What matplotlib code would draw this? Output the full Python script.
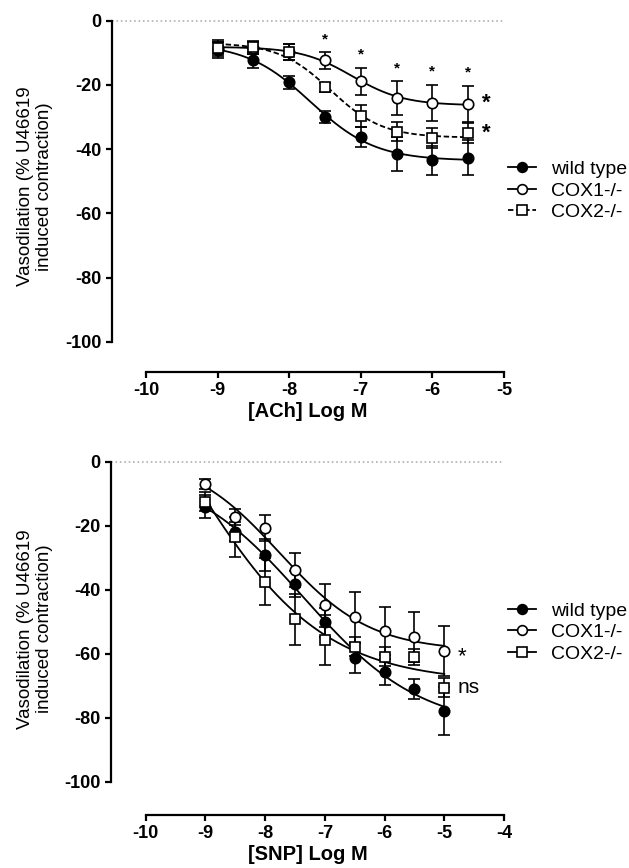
import numpy as np
import matplotlib
matplotlib.use('Agg')
import matplotlib.pyplot as plt
from matplotlib.lines import Line2D

plt.rcParams['font.family'] = ['Liberation Sans', 'DejaVu Sans']
plt.rcParams['axes.unicode_minus'] = False

# ACh dose response (mean, sem)
log_ach = [-9, -8.5, -8, -7.5, -7, -6.5, -6, -5.5]
wt_ach = [-9.0, -12.3, -19.2, -30.0, -36.2, -41.6, -43.5, -42.6]
wt_ach_err = [2.5, 2.5, 2.0, 2.0, 3.1, 5.3, 4.5, 5.5]
cox1_ach = [-8.5, -8.5, -9.7, -12.3, -18.8, -24.2, -25.5, -25.8]
cox1_ach_err = [2.5, 2.0, 2.5, 2.6, 4.2, 5.3, 5.6, 5.6]
cox2_ach = [-8.5, -8.3, -9.7, -20.8, -29.7, -34.6, -36.5, -35.1]
cox2_ach_err = [2.0, 2.0, 2.5, 1.5, 3.3, 3.0, 3.0, 3.1]
star_ach = [-7.5, -7, -6.5, -6, -5.5]   # doses marked with small *

# SNP dose response
log_snp = [-9, -8.5, -8, -7.5, -7, -6.5, -6, -5.5, -5]
wt_snp = [-14.0, -21.9, -29.0, -38.2, -50.2, -61.2, -65.8, -71.0, -77.8]
wt_snp_err = [3.5, 3.0, 5.0, 4.0, 4.5, 4.7, 4.0, 3.0, 7.5]
cox1_snp = [-7.0, -17.2, -20.8, -33.8, -44.8, -48.6, -52.9, -54.7, -59.1]
cox1_snp_err = [1.5, 2.5, 4.0, 5.2, 6.7, 8.0, 7.4, 7.8, 7.8]
cox2_snp = [-12.5, -23.6, -37.5, -49.3, -55.7, -57.8, -60.9, -61.1, -70.6]
cox2_snp_err = [3.0, 6.3, 7.3, 8.0, 7.8, 3.0, 3.0, 2.5, 3.0]

labels = ['wild type', 'COX1-/-', 'COX2-/-']


def fit_4pl(x, y):
    # log(agonist) vs response, variable slope: least squares on a grid of
    # logEC50/hill, top and bottom solved exactly for each pair
    x = np.asarray(x, float)
    y = np.asarray(y, float)
    cs = np.linspace(-10, -4, 301)[:, None, None]
    hs = np.linspace(0.2, 1.2, 101)[None, :, None]
    s = 1 / (1 + 10 ** ((cs - x) * hs))
    a = 1 - s
    saa = (a * a).sum(-1); sss = (s * s).sum(-1); sas = (a * s).sum(-1)
    say = (a * y).sum(-1); ssy = (s * y).sum(-1)
    with np.errstate(all='ignore'):
        det = saa * sss - sas ** 2
        top = (say * sss - ssy * sas) / det
        bot = (ssy * saa - say * sas) / det
        res = ((top[..., None] * a + bot[..., None] * s - y) ** 2).sum(-1)
    res[~np.isfinite(res)] = np.inf
    i, j = np.unravel_index(np.argmin(res), res.shape)
    return top[i, j], bot[i, j], cs[i, 0, 0], hs[0, j, 0]


def curve(p, xx):
    top, bot, c, h = p
    s = 1 / (1 + 10 ** ((c - xx) * h))
    return top + (bot - top) * s


def panel(ax, x, means, errs, styles, xlo, xhi, ylo):
    ax.plot([xlo, xhi], [0, 0], ls=':', color='#b0b0b0', lw=1.2, clip_on=False)
    xx = np.linspace(x[0], x[-1], 200)
    for m, e, st in zip(means, errs, styles):
        ax.plot(xx, curve(fit_4pl(x, m), xx), color='k', lw=1.3, ls=st['ls'], zorder=2)
        ax.errorbar(x, m, yerr=e, fmt='none', ecolor='k', elinewidth=1.2,
                    capsize=4.5, capthick=1.2, zorder=3)
    for m, st in zip(means, styles):
        ax.plot(x, m, ls='none', marker=st['marker'], ms=st['ms'], mfc=st['mfc'],
                mec='k', mew=1.2, zorder=4)
    ax.set_xlim(xlo, xhi)
    ax.set_ylim(ylo, 0)
    ax.spines['top'].set_visible(False)
    ax.spines['right'].set_visible(False)
    ax.spines['left'].set_bounds(-100, 0)
    ax.spines['bottom'].set_bounds(-10, xhi)
    ax.spines['left'].set_linewidth(1.6)
    ax.spines['bottom'].set_linewidth(1.6)
    ax.set_yticks([0, -20, -40, -60, -80, -100])
    ax.set_xticks(np.arange(-10, xhi + 0.5, 1))
    ax.set_xticklabels(['%d' % t for t in np.arange(-10, xhi + 0.5, 1)])
    ax.tick_params(direction='out', length=4.5, width=1.6, labelsize=13, pad=3)
    for t in ax.get_xticklabels() + ax.get_yticklabels():
        t.set_fontweight('bold')


def legend(styles, ycen):
    handles = [Line2D([], [], color='k', lw=1.3, ls=st['ls'], marker=st['marker'],
                      ms=st['ms'] - 0.5, mfc=st['mfc'], mec='k', mew=1.2) for st in styles]
    fig.legend(handles, labels, loc='center left', bbox_to_anchor=(508 / 629, ycen),
               frameon=False, fontsize=14, handlelength=1.45, handletextpad=0.75,
               labelspacing=0.2, borderpad=0, borderaxespad=0)


fig = plt.figure(figsize=(6.29, 8.68), dpi=100)

# top panel: ACh
styles_ach = [dict(marker='o', mfc='k', ms=7.5, ls='-'),
              dict(marker='o', mfc='w', ms=7.5, ls='-'),
              dict(marker='s', mfc='w', ms=7, ls=(0, (3, 1.5)))]
ax1 = fig.add_axes([112 / 629, (868 - 371.7) / 868, (504 - 112) / 629, (371.7 - 20.7) / 868])
panel(ax1, log_ach, [wt_ach, cox1_ach, cox2_ach], [wt_ach_err, cox1_ach_err, cox2_ach_err],
      styles_ach, -10.474, -5, -109.3)
ax1.set_xlabel('[ACh] Log M', fontsize=14.5, fontweight='bold', labelpad=2)
for xs in star_ach:
    k = log_ach.index(xs)
    ax1.text(xs, cox1_ach[k] + cox1_ach_err[k] + 4, '*', fontsize=11,
             fontweight='bold', ha='center', va='center')
ax1.text(-5.25, cox1_ach[-1], '*', fontsize=16, fontweight='bold', ha='center', va='center')
ax1.text(-5.25, cox2_ach[-1], '*', fontsize=16, fontweight='bold', ha='center', va='center')
fig.text(35 / 629, (868 - 186.5) / 868, 'Vasodilation (% U46619\ninduced contraction)',
         rotation=90, ha='center', va='center', fontsize=13.5, linespacing=1.15)
legend(styles_ach, (868 - 190.7) / 868)

# bottom panel: SNP
styles_snp = [dict(marker='o', mfc='k', ms=7.5, ls='-'),
              dict(marker='o', mfc='w', ms=7.5, ls='-'),
              dict(marker='s', mfc='w', ms=7, ls='-')]
ax2 = fig.add_axes([111 / 629, (868 - 815) / 868, (504 - 111) / 629, (815 - 461.7) / 868])
panel(ax2, log_snp, [wt_snp, cox1_snp, cox2_snp], [wt_snp_err, cox1_snp_err, cox2_snp_err],
      styles_snp, -10.58, -4, -110.4)
ax2.set_xlabel('[SNP] Log M', fontsize=14.5, fontweight='bold', labelpad=2)
ax2.text(-4.71, cox1_snp[-1] - 1.8, '*', fontsize=16, ha='center', va='center')
ax2.text(-4.6, cox2_snp[-1], 'ns', fontsize=15, ha='center', va='center')
fig.text(35 / 629, (868 - 629) / 868, 'Vasodilation (% U46619\ninduced contraction)',
         rotation=90, ha='center', va='center', fontsize=13.5, linespacing=1.15)
legend(styles_snp, (868 - 632.3) / 868)

fig.savefig('out.png', dpi=100)
